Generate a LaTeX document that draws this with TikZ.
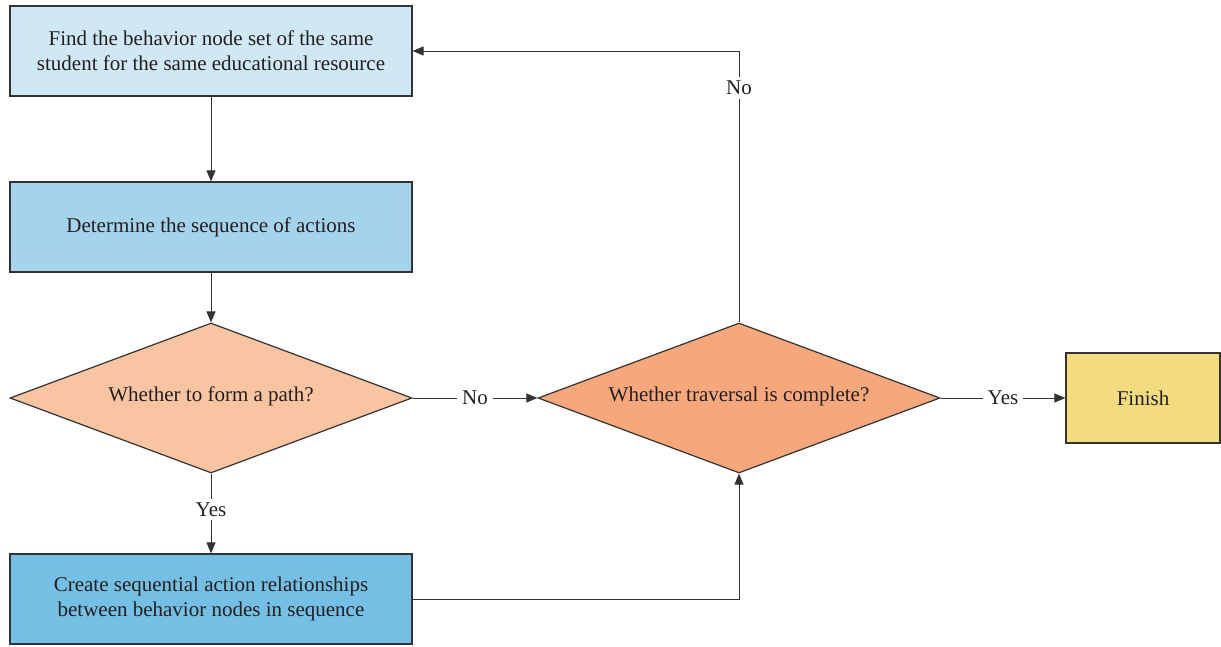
\documentclass[tikz,border=0pt]{standalone}
\usepackage{fontspec}
\setmainfont{Liberation Serif}
\usetikzlibrary{shapes.geometric,arrows.meta}
\definecolor{inkc}{HTML}{231F20}
\definecolor{lineg}{HTML}{333333}
\definecolor{boxa}{HTML}{D0E8F5}
\definecolor{boxb}{HTML}{A5D3EC}
\definecolor{boxc}{HTML}{76BFE4}
\definecolor{dia}{HTML}{F9C4A2}
\definecolor{dib}{HTML}{F6A87C}
\definecolor{fin}{HTML}{F2DC7F}
\begin{document}
\begin{tikzpicture}[x=1pt,y=-1pt,
  every node/.style={font=\fontsize{21}{25}\selectfont, text=inkc},
  procbox/.style={draw=lineg, line width=1.2pt, minimum width=402pt, minimum height=90pt, align=center, inner sep=0pt},
  decbox/.style={draw=lineg, line width=1.2pt, diamond, aspect=2.68, minimum width=402pt, minimum height=150pt, inner sep=0pt},
  flow/.style={draw=lineg, line width=1pt, -{Triangle[length=11pt,width=9pt]}},
  lbl/.style={fill=white, inner xsep=5pt, inner ysep=4pt}]
\useasboundingbox (0,0) rectangle (1221,646);
\node[procbox, fill=boxa] (find) at (211,51) {Find the behavior node set of the same\\student for the same educational resource};
\node[procbox, fill=boxb] (seq) at (211,227) {Determine the sequence of actions};
\node[decbox, fill=dia] (path) at (211,398) {};
\node at (211,396) {Whether to form a path?};
\node[procbox, fill=boxc] (rel) at (211,599) {Create sequential action relationships\\between behavior nodes in sequence};
\node[decbox, fill=dib] (trav) at (739,398) {};
\node at (739,396) {Whether traversal is complete?};
\node[draw=lineg, line width=1.2pt, fill=fin, minimum width=154pt, minimum height=90pt, inner sep=0pt] (fini) at (1143,398) {Finish};

\draw[flow] (find.south) -- (seq.north);
\draw[flow] (seq.south) -- (path.north);
\draw[flow] (path.south) -- node[lbl, pos=0.45] {Yes} (rel.north);
\draw[flow] (path.east) -- node[lbl, pos=0.5] {No} (trav.west);
\draw[flow] (trav.east) -- node[lbl, pos=0.5] {Yes} (fini.west);
\draw[flow] (rel.east) -| (trav.south);
\coordinate (corner) at (trav.north |- find.east);
\draw[flow] (trav.north) -- node[lbl, pos=0.865] {No} (corner) -- (find.east);
\end{tikzpicture}
\end{document}
